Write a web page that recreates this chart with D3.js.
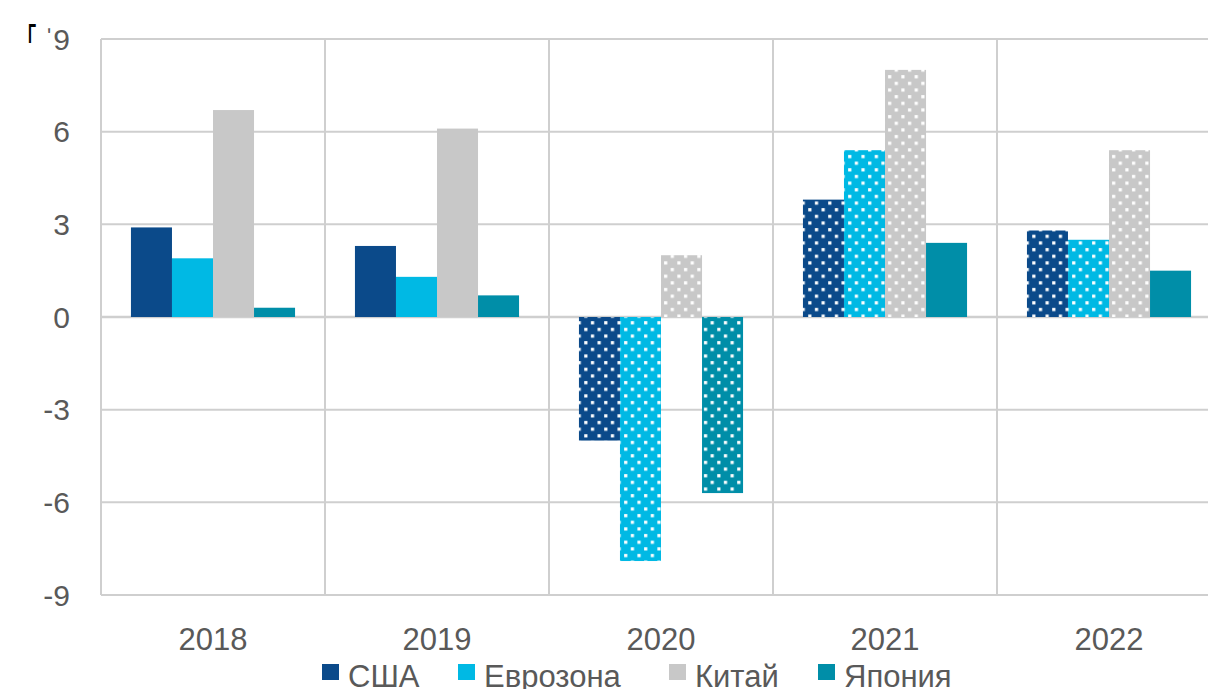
<!DOCTYPE html>
<html>
<head>
<meta charset="utf-8">
<script src="https://cdn.jsdelivr.net/npm/d3@7"></script>
<style>
  body { margin: 0; background: #fff; }
  svg { display: block; font-family: "Liberation Sans", Arial, sans-serif; }
</style>
</head>
<body>
<svg id="chart" width="1208" height="689"></svg>
<script>
const years = ["2018", "2019", "2020", "2021", "2022"];
const series = ["США", "Еврозона", "Китай", "Япония"];
const colors = ["#0b4a8a", "#00b9e4", "#c8c8c8", "#008ea8"];

const usa = [2.9, 2.3, -4.0, 3.8, 2.8];
const eurozone = [1.9, 1.3, -7.9, 5.4, 2.5];
const china = [6.7, 6.1, 2.0, 8.0, 5.4];
const japan = [0.3, 0.7, -5.7, 2.4, 1.5];

// dotted bars = estimate / forecast
const usaEst = [0, 0, 1, 1, 1];
const eurozoneEst = [0, 0, 1, 1, 1];
const chinaEst = [0, 0, 1, 1, 1];
const japanEst = [0, 0, 1, 0, 0];

const yTicks = [-9, -6, -3, 0, 3, 6, 9];

const values = [usa, eurozone, china, japan];
const est = [usaEst, eurozoneEst, chinaEst, japanEst];

const svg = d3.select("#chart");

const margin = { "T": 39, "B": 94, "L": 101, "R": -13 };
const width = 1208, height = 689;

const x0 = d3.scaleBand()
    .domain(years)
    .range([margin.L, width - margin.R])
    .padding(0);
const x1 = d3.scaleBand()
    .domain(series)
    .range([0, x0.bandwidth()])
    .paddingInner(0)
    .paddingOuter(0.73);
const y = d3.scaleLinear()
    .domain([-9, 9])
    .range([height - margin.B, margin.T]);

// patterns
const defs = svg.append("defs");
series.forEach((s, i) => {
    const p = defs.append("pattern")
        .attr("id", `dots-${i}`)
        .attr("patternUnits", "userSpaceOnUse")
        .attr("width", 13.3)
        .attr("height", 13.3);
    p.append("rect").attr("width", 13.3).attr("height", 13.3).attr("fill", colors[i]);
    p.append("rect").attr("x", 2).attr("y", 2).attr("width", 3.2).attr("height", 3.2).attr("fill", "#fff");
    p.append("rect").attr("x", 8.65).attr("y", 8.65).attr("width", 3.2).attr("height", 3.2).attr("fill", "#fff");
});

const gridColor = "#cfcfcf";

// horizontal grid
svg.append("g")
    .selectAll("line")
    .data(yTicks)
    .join("line")
        .attr("x1", margin.L)
        .attr("x2", width - margin.R)
        .attr("y1", d => y(d))
        .attr("y2", d => y(d))
        .attr("stroke", gridColor)
        .attr("stroke-width", d => d === 0 ? 2.5 : 2);

// vertical grid
svg.append("g")
    .selectAll("line")
    .data(years.concat(["end"]))
    .join("line")
        .attr("x1", (d, i) => margin.L + i * x0.bandwidth())
        .attr("x2", (d, i) => margin.L + i * x0.bandwidth())
        .attr("y1", y(9))
        .attr("y2", y(-9))
        .attr("stroke", gridColor)
        .attr("stroke-width", 2);

// bars
const groups = svg.append("g")
    .selectAll("g")
    .data(years)
    .join("g")
        .attr("transform", d => `translate(${x0(d)},0)`);

groups.selectAll("rect")
    .data((d, yi) => series.map((s, si) => ({ s, si, v: values[si][yi], e: est[si][yi] })))
    .join("rect")
        .attr("x", d => x1(d.s))
        .attr("width", x1.bandwidth())
        .attr("y", d => y(Math.max(0, d.v)))
        .attr("height", d => Math.abs(y(d.v) - y(0)))
        .attr("fill", d => d.e ? `url(#dots-${d.si})` : colors[d.si]);

// y labels
svg.append("g")
    .selectAll("text")
    .data(yTicks)
    .join("text")
        .attr("x", 70)
        .attr("y", d => y(d))
        .attr("dy", "0.35em")
        .attr("text-anchor", "end")
        .attr("fill", "#595959")
        .attr("font-size", 30)
        .text(d => d);

// x labels
svg.append("g")
    .selectAll("text")
    .data(years)
    .join("text")
        .attr("x", d => x0(d) + x0.bandwidth() / 2)
        .attr("y", 650)
        .attr("text-anchor", "middle")
        .attr("fill", "#595959")
        .attr("font-size", 31)
        .text(d => d);

// legend
const legendX = [322, 458, 669, 818];
const legend = svg.append("g")
    .selectAll("g")
    .data(series)
    .join("g")
        .attr("transform", (d, i) => `translate(${legendX[i]},664)`);
legend.append("rect")
    .attr("width", 17)
    .attr("height", 16)
    .attr("fill", (d, i) => colors[i]);
legend.append("text")
    .attr("x", 26)
    .attr("y", 23)
    .attr("fill", "#595959")
    .attr("font-size", 31)
    .text(d => d);

// clipped title remnants at top-left
svg.append("text")
    .attr("x", 28)
    .attr("y", 43)
    .attr("font-size", 28)
    .attr("font-weight", "bold")
    .attr("fill", "#000")
    .attr("textLength", 8)
    .attr("lengthAdjust", "spacingAndGlyphs")
    .text("Г");
svg.append("text")
    .attr("x", 47)
    .attr("y", 44)
    .attr("font-size", 22)
    .attr("fill", "#595959")
    .text("ʹ");
</script>
</body>
</html>
